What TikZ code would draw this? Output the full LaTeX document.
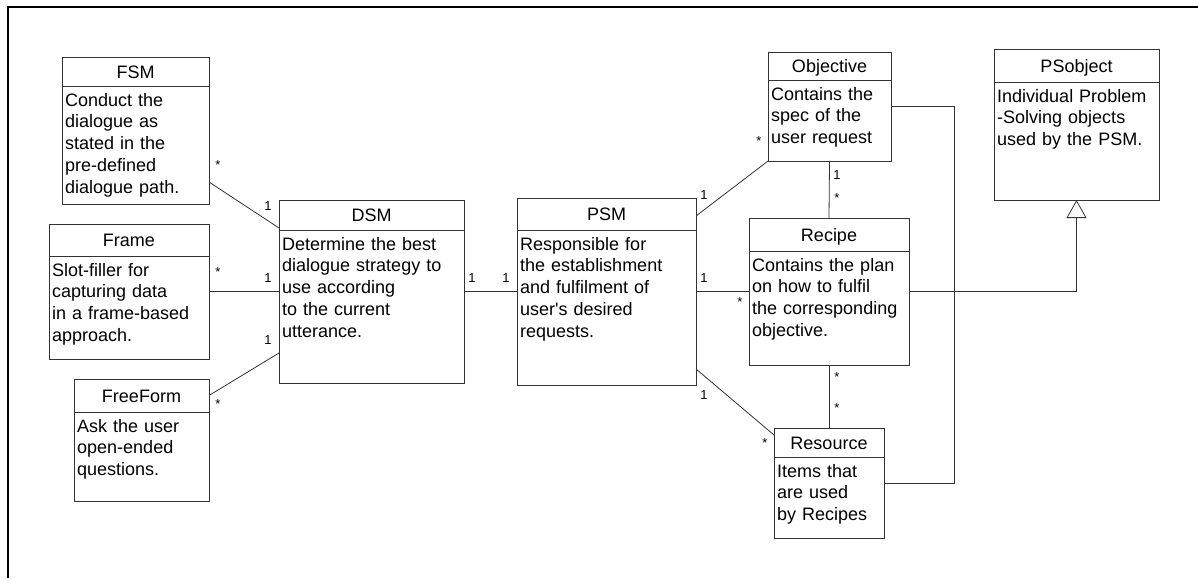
\documentclass[tikz,border=0pt]{standalone}
\usepackage{fontspec}
\setmainfont{Liberation Sans}
\usetikzlibrary{positioning,arrows.meta}

\begin{document}
\begin{tikzpicture}[x=1pt,y=-1pt]
        \tikzstyle{classhead}=[rectangle,draw=black!80,line width=0.8pt,inner sep=0pt,outer sep=0pt,anchor=north west,font=\fontsize{18}{21.7}\selectfont,text height=13pt,text depth=0pt]
        \tikzstyle{classbody}=[rectangle,draw=black!80,line width=0.8pt,inner sep=0pt,outer sep=0pt]
        \tikzstyle{classtext}=[anchor=north west,inner xsep=3pt,inner ysep=7pt,align=left,font=\fontsize{18}{21.7}\selectfont]
        \tikzstyle{assoc}=[draw=black!80,line width=0.8pt]
        \tikzstyle{mult}=[inner sep=0pt,font=\fontsize{13}{13}\selectfont]
        \useasboundingbox (0,0) rectangle (1198,578);
        \draw[line width=2.5pt] (8,578) -- (8,7) -- (1198,7);

        % classes: title box with the description box below it
        \node [classhead,minimum width=147pt,minimum height=29pt] (fsm) at (62,57) {FSM};
        \node [classbody,below=0pt of fsm,minimum width=147pt,minimum height=118pt,
               label={[classtext,text width=141pt]north west:Conduct the\\dialogue as\\stated in the\\pre-defined\\dialogue path.}] (fsmbody) {};

        \node [classhead,minimum width=160pt,minimum height=32pt] (frame) at (49,224) {Frame};
        \node [classbody,below=0pt of frame,minimum width=160pt,minimum height=103pt,
               label={[classtext,text width=154pt]north west:Slot-filler for\\capturing data\\in a frame-based\\approach.}] (framebody) {};

        \node [classhead,minimum width=135pt,minimum height=33pt] (freeform) at (74,379) {FreeForm};
        \node [classbody,below=0pt of freeform,minimum width=135pt,minimum height=89pt,
               label={[classtext,text width=129pt]north west:Ask the user\\open-ended\\questions.}] (freeformbody) {};

        \node [classhead,minimum width=185pt,minimum height=30pt] (dsm) at (279,200) {DSM};
        \node [classbody,below=0pt of dsm,minimum width=185pt,minimum height=153pt,
               label={[classtext,text width=179pt]north west:Determine the best\\dialogue strategy to\\use according\\to the current\\utterance.}] (dsmbody) {};

        \node [classhead,minimum width=179pt,minimum height=32pt] (psm) at (517,198) {PSM};
        \node [classbody,below=0pt of psm,minimum width=179pt,minimum height=155pt,
               label={[classtext,text width=173pt]north west:Responsible for\\the establishment\\and fulfilment of\\user\textquotesingle s desired\\requests.}] (psmbody) {};

        \node [classhead,minimum width=123pt,minimum height=28pt] (obj) at (768,52) {Objective};
        \node [classbody,below=0pt of obj,minimum width=123pt,minimum height=81pt,
               label={[classtext,text width=117pt]north west:Contains the\\spec of the\\user request}] (objbody) {};

        \node [classhead,minimum width=160pt,minimum height=33pt] (recipe) at (749,218) {Recipe};
        \node [classbody,below=0pt of recipe,minimum width=160pt,minimum height=114pt,
               label={[classtext,text width=154pt]north west:Contains the plan\\on how to fulfil\\the corresponding\\objective.}] (recipebody) {};

        \node [classhead,minimum width=110pt,minimum height=29pt] (res) at (774,428) {Resource};
        \node [classbody,below=0pt of res,minimum width=110pt,minimum height=81pt,
               label={[classtext,text width=104pt]north west:Items that\\are used\\by Recipes}] (resbody) {};

        \node [classhead,minimum width=165pt,minimum height=33pt] (ps) at (994,49) {PSobject};
        \node [classbody,below=0pt of ps,minimum width=165pt,minimum height=118pt,
               label={[classtext,text width=159pt]north west:Individual Problem\\-Solving objects\\used by the PSM.}] (psbody) {};

        \coordinate (frameout) at ([yshift=16pt]framebody.east);
        \coordinate (dsmout) at ([yshift=15pt]dsmbody.east);
        \coordinate (psmout) at ([yshift=16pt]psmbody.east);
        \coordinate (recipeout) at ([yshift=16.5pt]recipebody.east);
        \coordinate (objout) at ([yshift=14.5pt]objbody.east);
        \coordinate (resout) at ([yshift=14.5pt]resbody.east);

        % associations
        \path[assoc] ([yshift=22pt]fsmbody.south east) edge node[mult,at start,xshift=9pt,yshift=17pt] {*} node[mult,at end,xshift=-11pt,yshift=22pt] {1} ([yshift=2pt]dsm.south west);
        \path[assoc] (frameout) edge node[mult,at start,xshift=9pt,yshift=19.5pt] {*} node[mult,at end,xshift=-11pt,yshift=13.5pt] {1} (frameout -| dsmbody.west);
        \path[assoc] (freeform.east) edge node[mult,at start,xshift=9pt,yshift=-8.5pt] {*} node[mult,at end,xshift=-11pt,yshift=13pt] {1} ([yshift=30pt]dsmbody.south west);

        \path[assoc] (dsmout) edge node[mult,at start,xshift=8pt,yshift=13.5pt] {1} node[mult,at end,xshift=-11pt,yshift=13.5pt] {1} (dsmout -| psmbody.west);

        \path[assoc] ([yshift=-2pt]psm.east) edge node[mult,at start,xshift=8pt,yshift=21pt] {1} node[mult,at end,xshift=-9pt,yshift=20pt] {*} (objbody.south west);
        \path[assoc] (psmout) edge node[mult,at start,xshift=8pt,yshift=13.5pt] {1} node[mult,at end,xshift=-9pt,yshift=-10.5pt] {*} (psmout -| recipebody.west);
        \path[assoc] ([yshift=16pt]psmbody.south east) edge node[mult,at start,xshift=8pt,yshift=-26pt] {1} node[mult,at end,xshift=-9pt,yshift=-8pt] {*} ([yshift=-7pt]res.north west);

        \path[assoc] (objbody.south) edge node[mult,at start,xshift=7.5pt,yshift=-14pt] {1} node[mult,at end,xshift=8pt,yshift=20pt] {*} (recipe.north);
        \path[assoc] (recipebody.south) edge node[mult,at start,xshift=8pt,yshift=-12pt] {*} node[mult,at end,xshift=8pt,yshift=20pt] {*} (res.north);

        \draw[assoc] (objout) -- ++(63pt,0) |- (resout);

        % generalisation
        \draw[assoc,-{Triangle[open,width=20pt,length=18pt]}] (recipeout) -| (psbody.south);
\end{tikzpicture}
\end{document}
